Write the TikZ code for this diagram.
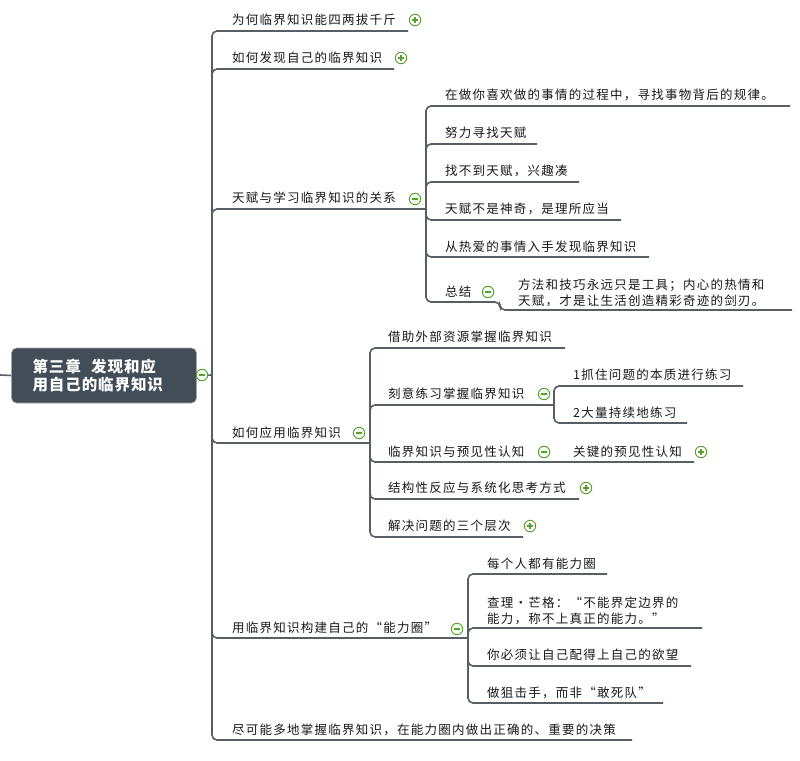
\documentclass[tikz,border=0pt]{standalone}
\usepackage{fontspec}
\newfontfamily\cjk[LetterSpace=10]{Noto Sans CJK SC}
\newfontfamily\cjktitle[LetterSpace=6]{Noto Sans CJK SC}
\definecolor{linegray}{HTML}{575E66}
\definecolor{rootfill}{HTML}{434D57}
\definecolor{foldgreen}{HTML}{5A9E2F}
\tikzset{
  branch/.style={draw=linegray, line width=1.6pt, rounded corners=5pt},
  topic/.style={anchor=west, inner sep=0pt, text=black!90, align=left,
    font=\cjk\fontsize{12.5}{16}\selectfont},
  rootbox/.style={fill=rootfill, draw=gray!70, line width=0.6pt, rounded corners=5pt,
    text=white, align=left, text width=143pt, inner xsep=21pt, minimum height=55pt,
    font=\cjktitle\bfseries\fontsize{15.5}{18}\selectfont},
  fold/.style={circle, draw=foldgreen, line width=0.9pt, fill=green!6, inner sep=0pt, minimum size=11.5pt,
    path picture={\draw[foldgreen, line width=1.1pt]
      ([xshift=-3.2pt]path picture bounding box.center) -- ([xshift=3.2pt]path picture bounding box.center);}},
  unfold/.style={circle, draw=foldgreen, line width=0.9pt, fill=white, inner sep=0pt, minimum size=11.5pt,
    path picture={\draw[foldgreen, line width=1.1pt]
      ([xshift=-3.2pt]path picture bounding box.center) -- ([xshift=3.2pt]path picture bounding box.center)
      ([yshift=-3.2pt]path picture bounding box.center) -- ([yshift=3.2pt]path picture bounding box.center);}}
}
\begin{document}
\begin{tikzpicture}[x=1pt, y=-1pt]
    \fill[white] (0,0) rectangle (800,760);
    \useasboundingbox (0,0) rectangle (800,760);

    \node[rootbox] (root) at (104,375.5) {第三章\ \ 发现和应\\用自己的临界知识};
    \coordinate (lstub) at (0,375);
    \coordinate (m0) at (212,375);

    \coordinate (u1) at (408,31);
    \coordinate (u2) at (394,69);
    \coordinate (s3) at (426,209);
    \coordinate (s4) at (370,443);
    \coordinate (s5) at (468,638);
    \coordinate (u6) at (632,740);

    \coordinate (v1) at (790,106);
    \coordinate (v2) at (537,144);
    \coordinate (v3) at (579,182);
    \coordinate (v4) at (621,220);
    \coordinate (v5) at (649,257);
    \coordinate (k6) at (500,302);
    \coordinate (w1) at (792,310);

    \coordinate (h1) at (565,348);
    \coordinate (s42) at (554,405);
    \coordinate (q1) at (743,386);
    \coordinate (q2) at (687,423);
    \coordinate (h3) at (694,462);
    \coordinate (h4) at (579,499);
    \coordinate (h5) at (523,537);

    \coordinate (t1) at (607,574);
    \coordinate (t2) at (702,628);
    \coordinate (t3) at (691,666);
    \coordinate (t4) at (663,703);

    \draw[branch] (lstub) -- (root.west);
    \draw[branch] (root.east) -- (m0);
    \foreach \e in {u1,u2,s3,s4,s5,u6}
        \draw[branch] (m0) |- (\e);
    \foreach \e in {v1,v2,v3,v4,v5}
        \draw[branch] (s3) |- (\e);
    \draw[branch] (s3) |- (k6) |- (w1);
    \foreach \e in {h1,s42,h3,h4,h5}
        \draw[branch] (s4) |- (\e);
    \foreach \e in {q1,q2}
        \draw[branch] (s42) |- (\e);
    \foreach \e in {t1,t2,t3,t4}
        \draw[branch] (s5) |- (\e);

    \node[topic] (c1) at (232,20) {为何临界知识能四两拔千斤};
    \node[topic] (c2) at (232,58) {如何发现自己的临界知识};
    \node[topic] (c3) at (232,198) {天赋与学习临界知识的关系};
    \node[topic] (c4) at (232,433) {如何应用临界知识};
    \node[topic] (c5) at (232,628) {用临界知识构建自己的“能力圈”};
    \node[topic] (c6) at (232,730) {尽可能多地掌握临界知识，在能力圈内做出正确的、重要的决策};

    \node[topic] (d1) at (445,95) {在做你喜欢做的事情的过程中，寻找事物背后的规律。};
    \node[topic] (d2) at (445,133) {努力寻找天赋};
    \node[topic] (d3) at (445,171) {找不到天赋，兴趣凑};
    \node[topic] (d4) at (445,209) {天赋不是神奇，是理所应当};
    \node[topic] (d5) at (445,247) {从热爱的事情入手发现临界知识};
    \node[topic] (d6) at (445,292) {总结};
    \node[topic] (e1) at (518,293) {方法和技巧永远只是工具；内心的热情和\\天赋，才是让生活创造精彩奇迹的剑刃。};

    \node[topic] (g1) at (388,337) {借助外部资源掌握临界知识};
    \node[topic] (g2) at (388,394) {刻意练习掌握临界知识};
    \node[topic] (p1) at (573,375) {1抓住问题的本质进行练习};
    \node[topic] (p2) at (573,413) {2大量持续地练习};
    \node[topic] (g3) at (388,452) {临界知识与预见性认知};
    \node[topic] (p3) at (573,452) {关键的预见性认知};
    \node[topic] (g4) at (388,488) {结构性反应与系统化思考方式};
    \node[topic] (g5) at (388,526) {解决问题的三个层次};

    \node[topic] (r1) at (487,564) {每个人都有能力圈};
    \node[topic] (r2) at (487,611) {查理·芒格：“不能界定边界的\\能力，称不上真正的能力。”};
    \node[topic] (r3) at (487,655) {你必须让自己配得上自己的欲望};
    \node[topic] (r4) at (487,693) {做狙击手，而非“敢死队”};

    \node[fold] (f0) at (202,375) {};
    \node[unfold] (f1) at (415,20) {};
    \node[unfold] (f2) at (401,58) {};
    \node[fold] (f3) at (415,199) {};
    \node[fold] (f36) at (488,292) {};
    \node[fold] (f4) at (359,433) {};
    \node[fold] (f42) at (544,394) {};
    \node[fold] (f43) at (544,452) {};
    \node[unfold] (f431) at (701,452) {};
    \node[unfold] (f44) at (586,488) {};
    \node[unfold] (f45) at (530,526) {};
    \node[fold] (f5) at (457,629) {};
\end{tikzpicture}
\end{document}
